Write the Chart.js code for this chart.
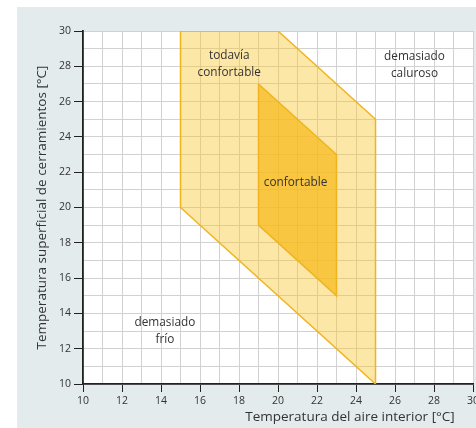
<!DOCTYPE html>
<html>
<head>
<meta charset="utf-8">
<script src="https://cdn.jsdelivr.net/npm/chart.js@4.4.1/dist/chart.umd.min.js"></script>
<style>
  html, body { margin: 0; padding: 0; width: 476px; height: 428px; overflow: hidden; background: #fff; }
  #panel { position: absolute; left: 17px; top: 7px; width: 459px; height: 421px; background: #e4ebed; }
  #wrap { position: absolute; left: 0; top: 0; width: 500px; height: 428px; }
</style>
</head>
<body>
<div id="panel"></div>
<div id="wrap"><canvas id="grafico" width="500" height="428"></canvas></div>
<script>
// zona "todavía confortable" (polígono exterior)
const todaviaX = [15, 20, 25, 25, 15, 15];
const todaviaY = [30, 30, 25, 10, 20, 30];
// zona "confortable" (polígono interior)
const confortX = [19, 23, 23, 19, 19];
const confortY = [27, 23, 15, 19, 27];

const ticksX = [10, 12, 14, 16, 18, 20, 22, 24, 26, 28, 30];
const ticksY = [10, 12, 14, 16, 18, 20, 22, 24, 26, 28, 30];

const etiquetas = [['todavía', 'confortable'], ['confortable'], ['demasiado', 'caluroso'], ['demasiado', 'frío']];
const etiquetasX = [17.5, 20.9, 27.0, 14.2];
const etiquetasY = [28.1, 21.4, 28.05, 13.0];

const tituloX = 'Temperatura del aire interior [°C]';
const tituloY = 'Temperatura superficial de cerramientos [°C]';

function puntos(xs, ys) {
  return xs.map((x, i) => ({ x: x, y: ys[i] }));
}

const fondoBlanco = {
  id: 'fondoBlanco',
  beforeDraw(chart) {
    const { ctx, chartArea } = chart;
    ctx.save();
    ctx.fillStyle = '#ffffff';
    ctx.fillRect(chartArea.left, chartArea.top, chartArea.right - chartArea.left, chartArea.bottom - chartArea.top);
    ctx.restore();
  }
};

const textos = {
  id: 'textos',
  afterDraw(chart) {
    const { ctx } = chart;
    const sx = chart.scales.x, sy = chart.scales.y;
    ctx.save();
    ctx.fillStyle = '#333';
    ctx.textAlign = 'center';
    ctx.textBaseline = 'middle';
    ctx.font = '11.8px "Open Sans"';
    etiquetas.forEach((lineas, i) => {
      const px = sx.getPixelForValue(etiquetasX[i]);
      const py = sy.getPixelForValue(etiquetasY[i]);
      const alto = 17;
      lineas.forEach((t, j) => {
        ctx.fillText(t, px, py + (j - (lineas.length - 1) / 2) * alto);
      });
    });
    // titulo eje x (desplazado a la derecha como en el original)
    ctx.font = '13.5px "Open Sans"';
    ctx.fillText(tituloX, 350, 417);
    ctx.restore();
  }
};

function colorTick(c) {
  return ticksX.includes(c.tick.value) ? '#222' : 'rgba(0,0,0,0)';
}

const estiloZona = {
  type: 'scatter',
  showLine: true,
  tension: 0,
  pointRadius: 0,
  borderColor: '#efb41f',
  borderWidth: 1.5,
  fill: 'shape'
};

new Chart(document.getElementById('grafico'), {
  type: 'scatter',
  data: {
    datasets: [
      Object.assign({}, estiloZona, {
        label: 'confortable',
        data: puntos(confortX, confortY),
        backgroundColor: 'rgba(245,186,28,0.74)',
        order: 1
      }),
      Object.assign({}, estiloZona, {
        label: 'todavía confortable',
        data: puntos(todaviaX, todaviaY),
        backgroundColor: 'rgba(250,200,50,0.43)',
        order: 2
      })
    ]
  },
  options: {
    responsive: false,
    devicePixelRatio: 1,
    animation: false,
    layout: { padding: { top: 31, right: 27, bottom: 0, left: 0 } },
    scales: {
      x: {
        type: 'linear',
        min: 10,
        max: 30,
        ticks: {
          stepSize: 1,
          autoSkip: false,
          maxRotation: 0,
          padding: 3,
          color: '#333',
          font: { family: 'Open Sans', size: 10.5 },
          callback: v => ticksX.includes(v) ? String(v) : ''
        },
        grid: { color: '#d2d2d2', lineWidth: 1, tickLength: 8, tickColor: colorTick },
        border: { color: '#222', width: 1.8 },
        afterFit: s => { s.height = 44; }
      },
      y: {
        type: 'linear',
        min: 10,
        max: 30,
        ticks: {
          stepSize: 1,
          autoSkip: false,
          padding: 3,
          color: '#333',
          font: { family: 'Open Sans', size: 10.5 },
          callback: v => ticksY.includes(v) ? String(v) : ''
        },
        grid: { color: '#d2d2d2', lineWidth: 1, tickLength: 9, tickColor: c => ticksY.includes(c.tick.value) ? '#222' : 'rgba(0,0,0,0)' },
        border: { color: '#222', width: 1.8 },
        title: {
          display: true,
          text: tituloY,
          color: '#333',
          font: { family: 'Open Sans', size: 13.5 },
          padding: { top: 34, bottom: 0 }
        },
        afterFit: s => { s.width = 83; }
      }
    },
    plugins: {
      legend: { display: false },
      tooltip: { enabled: false }
    }
  },
  plugins: [fondoBlanco, textos]
});
</script>
</body>
</html>
